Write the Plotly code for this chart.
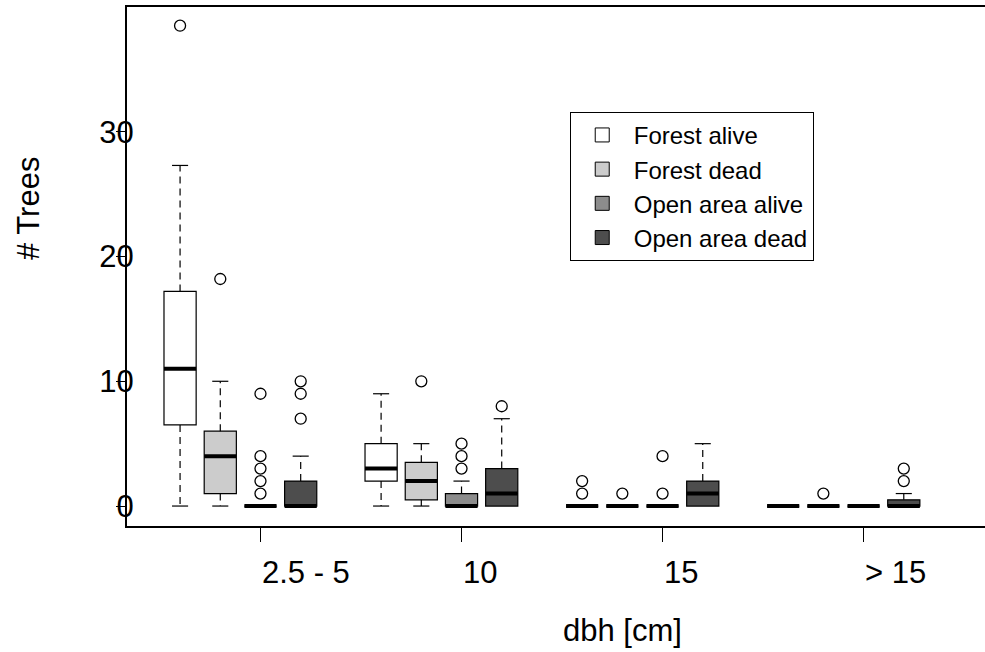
import plotly.graph_objects as go

# ---- data -------------------------------------------------------------
groups = ["2.5 - 5", "10", "15", "> 15"]
series = ["Forest alive", "Forest dead", "Open area alive", "Open area dead"]
colors = ["#FFFFFF", "#CCCCCC", "#8C8C8C", "#4D4D4D"]

# per series: values for the 4 dbh classes
q1 = {
    "Forest alive":    [6.5, 2.0, 0, 0],
    "Forest dead":     [1.0, 0.5, 0, 0],
    "Open area alive": [0, 0, 0, 0],
    "Open area dead":  [0, 0, 0, 0],
}
med = {
    "Forest alive":    [11.0, 3.0, 0, 0],
    "Forest dead":     [4.0, 2.0, 0, 0],
    "Open area alive": [0, 0, 0, 0],
    "Open area dead":  [0, 1.0, 1.0, 0],
}
q3 = {
    "Forest alive":    [17.2, 5.0, 0, 0],
    "Forest dead":     [6.0, 3.5, 0, 0],
    "Open area alive": [0, 1.0, 0, 0],
    "Open area dead":  [2.0, 3.0, 2.0, 0.5],
}
wlo = {
    "Forest alive":    [0, 0, 0, 0],
    "Forest dead":     [0, 0, 0, 0],
    "Open area alive": [0, 0, 0, 0],
    "Open area dead":  [0, 0, 0, 0],
}
whi = {
    "Forest alive":    [27.3, 9.0, 0, 0],
    "Forest dead":     [10.0, 5.0, 0, 0],
    "Open area alive": [0, 2.0, 0, 0],
    "Open area dead":  [4.0, 7.0, 5.0, 1.0],
}
outliers = {
    "Forest alive":    [[38.5], [], [1, 2], []],
    "Forest dead":     [[18.2], [10], [1], [1]],
    "Open area alive": [[1, 2, 3, 4, 9], [3, 4, 5], [1, 4], []],
    "Open area dead":  [[7, 9, 10], [8], [], [2, 3]],
}
y_ticks = [0, 10, 20, 30]

# ---- layout constants ---------------------------------------------------
BOXW = 0.8
STAPLE = 0.4
FONT = "Liberation Sans, Arial, sans-serif"


def pos(g, s):
    return 1 + 5 * g + s


fig = go.Figure()

for s, name in enumerate(series):
    xs = [pos(g, s) for g in range(len(groups))]
    fig.add_trace(go.Box(
        x=xs, q1=q1[name], median=med[name], q3=q3[name],
        lowerfence=q1[name], upperfence=q3[name],
        width=BOXW, fillcolor=colors[s],
        line=dict(color="black", width=1.2),
        boxpoints=False, showlegend=False, hoverinfo="skip",
    ))

# whiskers (dashed) and staples
for s, name in enumerate(series):
    wx, wy, sx, sy = [], [], [], []
    for g in range(len(groups)):
        x = pos(g, s)
        if whi[name][g] > q3[name][g]:
            wx += [x, x, None]
            wy += [q3[name][g], whi[name][g], None]
            sx += [x - STAPLE / 2, x + STAPLE / 2, None]
            sy += [whi[name][g], whi[name][g], None]
        if wlo[name][g] < q1[name][g]:
            wx += [x, x, None]
            wy += [q1[name][g], wlo[name][g], None]
            sx += [x - STAPLE / 2, x + STAPLE / 2, None]
            sy += [wlo[name][g], wlo[name][g], None]
    fig.add_trace(go.Scatter(x=wx, y=wy, mode="lines",
                             line=dict(color="black", width=1.2, dash="7px,5px"),
                             showlegend=False, hoverinfo="skip"))
    fig.add_trace(go.Scatter(x=sx, y=sy, mode="lines",
                             line=dict(color="black", width=1.2),
                             showlegend=False, hoverinfo="skip"))

# thick medians
for s, name in enumerate(series):
    mx, my = [], []
    for g in range(len(groups)):
        x = pos(g, s)
        mx += [x - BOXW / 2, x + BOXW / 2, None]
        my += [med[name][g], med[name][g], None]
    fig.add_trace(go.Scatter(x=mx, y=my, mode="lines",
                             line=dict(color="black", width=4),
                             showlegend=False, hoverinfo="skip"))

# outliers
for s, name in enumerate(series):
    ox, oy = [], []
    for g in range(len(groups)):
        for v in outliers[name][g]:
            ox.append(pos(g, s))
            oy.append(v)
    fig.add_trace(go.Scatter(x=ox, y=oy, mode="markers",
                             marker=dict(symbol="circle-open", size=11,
                                         color="black", line=dict(width=1.3)),
                             showlegend=False, hoverinfo="skip"))

# legend entries
for s, name in enumerate(series):
    fig.add_trace(go.Scatter(x=[None], y=[None], mode="markers", name=name,
                             marker=dict(symbol="square", size=14, color=colors[s],
                                         line=dict(color="black", width=1))))

tick_pos = [pos(g, 2) for g in range(len(groups))]

fig.update_layout(
    width=985, height=652,
    margin=dict(l=127, r=0, t=7, b=126),
    paper_bgcolor="white", plot_bgcolor="white",
    font=dict(family=FONT, color="black", size=31),
    xaxis=dict(range=[-0.32, 21.02], tickvals=tick_pos, ticktext=groups,
               ticks="outside", ticklen=14, tickwidth=1, tickcolor="black",
               ticklabelposition="outside right", ticklabelstandoff=18,
               showline=True, linecolor="black", linewidth=2, mirror=True,
               showgrid=False, zeroline=False, tickfont=dict(size=31)),
    yaxis=dict(range=[-1.6, 40.0], tickvals=y_ticks,
               ticks="outside", ticklen=9, tickwidth=1, tickcolor="black",
               ticklabelstandoff=-24,
               showline=True, linecolor="black", linewidth=2, mirror=False,
               showgrid=False, zeroline=False, tickfont=dict(size=31)),
    legend=dict(x=0.516, y=0.798, xanchor="left", yanchor="top",
                bgcolor="white", bordercolor="black", borderwidth=1,
                font=dict(size=24), itemwidth=53, tracegroupgap=0),
    showlegend=True,
    annotations=[
        dict(text="# Trees", xref="paper", yref="paper",
             x=(28 - 127) / 858, y=(526 - 209) / 519, textangle=-90,
             showarrow=False, xanchor="center", yanchor="middle",
             font=dict(size=31)),
        dict(text="dbh [cm]", xref="paper", yref="paper",
             x=(622 - 127) / 858, y=(526 - 630) / 519,
             showarrow=False, xanchor="center", yanchor="middle",
             font=dict(size=31)),
    ],
)

fig.write_html("out.html")
